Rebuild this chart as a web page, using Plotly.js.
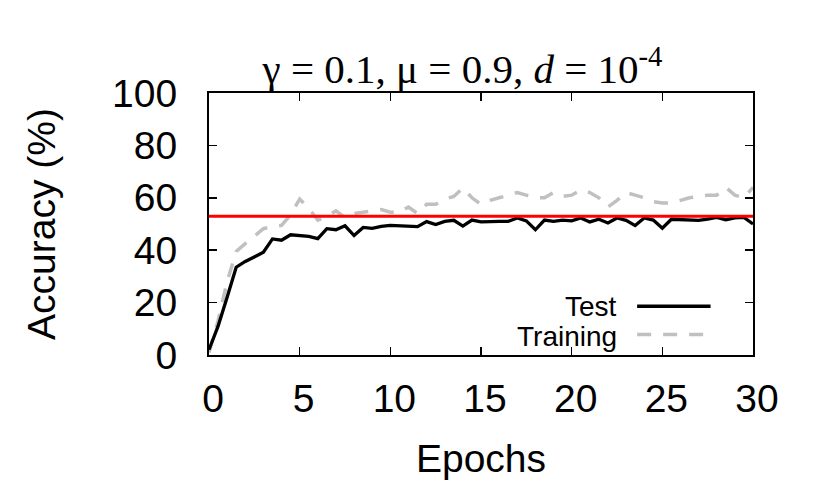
<!DOCTYPE html>
<html>
<head>
<meta charset="utf-8">
<script src="https://cdn.plot.ly/plotly-3.0.1.min.js"></script>
<style>html,body{margin:0;padding:0;background:#fff;}#chart{width:830px;height:492px;}</style>
</head>
<body>
<div id="chart"></div>
<script>
const epochs = [0,0.5,1,1.5,2,2.5,3,3.5,4,4.5,5,5.5,6,6.5,7,7.5,8,8.5,9,9.5,10,10.5,11,11.5,12,12.5,13,13.5,14,14.5,15,15.5,16,16.5,17,17.5,18,18.5,19,19.5,20,20.5,21,21.5,22,22.5,23,23.5,24,24.5,25,25.5,26,26.5,27,27.5,28,28.5,29,29.5,30];
const testAcc = [2,11,22,33.5,35.7,37.6,39.2,44.3,43.8,45.9,45.5,45.3,44.4,48.2,47.8,49.3,45.6,48.7,48.3,49.1,49.5,49.3,49.1,49.0,50.9,49.8,51.0,51.4,49.2,51.5,50.8,51.0,51.0,51.0,52.3,51.2,47.8,51.5,51.0,51.5,51.2,52.3,50.8,51.8,50.4,52.3,51.4,49.4,52.3,51.5,48.4,51.8,51.6,51.3,51.4,51.9,52.5,51.6,52.3,52.5,50.0];
const trainAcc = [1,13,28,39.5,42.5,45.5,48.2,49,49.5,53.5,59.5,56,51.5,53,55,52.5,54,54.5,55,55.5,54.5,54.5,56.5,54,57.5,57.5,59.5,60.5,63.8,60,57.5,59,60,61,62,61,60,60,62,60.5,61,63,62,60,56.5,59,62,61,60,58.5,58,58,59,60,60.5,61,61,64,61,60,64];
const refLevel = 53;
const xTicks = [0,5,10,15,20,25,30];
const yTicks = [0,20,40,60,80,100];
const seriesNames = ['Test','Training'];

const sans = 'Liberation Sans, Arial, sans-serif';
const serif = 'Liberation Serif, Times New Roman, serif';

const traces = [
  {x: epochs, y: trainAcc, mode: 'lines', name: seriesNames[1],
   line: {color: '#c0c0c0', width: 3.5, dash: '14px,12px'}, showlegend: false},
  {x: epochs, y: testAcc, mode: 'lines', name: seriesNames[0],
   line: {color: '#000000', width: 3.3}, showlegend: false},
  {x: [epochs[0], epochs[epochs.length-1]], y: [refLevel, refLevel], mode: 'lines',
   line: {color: '#ff0000', width: 3}, showlegend: false}
];

const layout = {
  width: 830, height: 492,
  margin: {l: 208.6, r: 77.4, t: 93, b: 136.5},
  paper_bgcolor: '#ffffff', plot_bgcolor: '#ffffff',
  title: {
    text: 'γ = 0.1, μ = 0.9, <i>d</i> = 10<sup>-4</sup>',
    font: {family: serif, size: 41, color: '#000'},
    xref: 'paper', x: 0.466, xanchor: 'center',
    yref: 'container', y: 0.861, yanchor: 'middle'
  },
  xaxis: {
    range: [0, 30], tickvals: xTicks, ticktext: xTicks.map(String),
    ticks: 'inside', ticklen: 8, tickwidth: 1.5, tickcolor: '#000',
    showline: true, linecolor: '#000', linewidth: 2, mirror: 'ticks',
    showgrid: false, zeroline: false,
    tickfont: {family: sans, size: 39, color: '#000'},
    ticklabelstandoff: 8, ticklabelshift: 4,
    title: {text: 'Epochs', font: {family: sans, size: 39, color: '#000'}, standoff: 26},
    automargin: false
  },
  yaxis: {
    range: [0, 100], tickvals: yTicks, ticktext: yTicks.map(String),
    ticks: 'inside', ticklen: 8, tickwidth: 1.5, tickcolor: '#000',
    showline: true, linecolor: '#000', linewidth: 2, mirror: 'ticks',
    showgrid: false, zeroline: false,
    tickfont: {family: sans, size: 39, color: '#000'},
    ticklabelstandoff: 22,
    title: {text: 'Accuracy (%)', font: {family: sans, size: 39, color: '#000'}, standoff: 44},
    automargin: false
  },
  annotations: [
    {xref: 'paper', yref: 'paper', x: 0.7544, y: 0.186, xanchor: 'right', yanchor: 'middle',
     text: seriesNames[0], showarrow: false, font: {family: sans, size: 28, color: '#000'}},
    {xref: 'paper', yref: 'paper', x: 0.7544, y: 0.072, xanchor: 'right', yanchor: 'middle',
     text: seriesNames[1], showarrow: false, font: {family: sans, size: 28, color: '#000'}}
  ],
  shapes: [
    {type: 'line', xref: 'paper', yref: 'paper', x0: 0.787, x1: 0.922, y0: 0.186, y1: 0.186,
     line: {color: '#000', width: 3.3}},
    {type: 'line', xref: 'paper', yref: 'paper', x0: 0.787, x1: 0.922, y0: 0.078, y1: 0.078,
     line: {color: '#c0c0c0', width: 3.5, dash: '14px,12px'}}
  ]
};

Plotly.newPlot('chart', traces, layout, {staticPlot: true, displayModeBar: false});
</script>
</body>
</html>
